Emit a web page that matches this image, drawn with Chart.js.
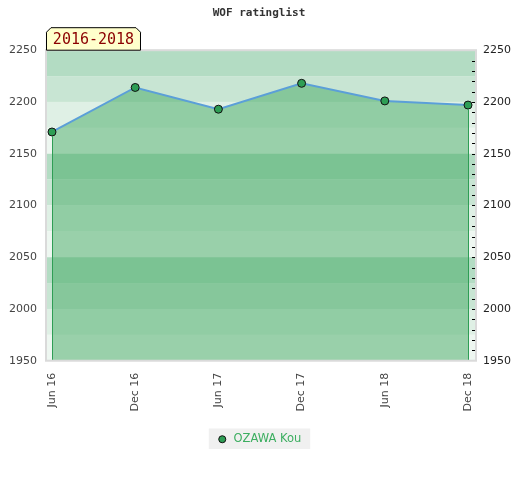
<!DOCTYPE html>
<html>
<head>
<meta charset="utf-8">
<script src="https://cdn.jsdelivr.net/npm/chart.js@4/dist/chart.umd.min.js"></script>
<style>
  html, body { margin: 0; padding: 0; background: #fff; }
  #wrap { width: 520px; height: 480px; }
</style>
</head>
<body>
<div id="wrap"><canvas id="rating-chart" width="520" height="480"></canvas></div>
<script>
// data
const periods = ["Jun 16", "Dec 16", "Jun 17", "Dec 17", "Jun 18", "Dec 18"];
const ratings = [2171, 2214, 2193, 2218, 2201, 2197];
const yTicks = [1950, 2000, 2050, 2100, 2150, 2200, 2250];
const playerName = "OZAWA Kou";
const rangeLabel = "2016-2018";

// styles
const bandColors = ["#b3dcc3", "#c8e5d3", "#dff0e5", "#eef7f1"];
const lineBlue = "#5b9fd8";
const pointGreen = "#2e9e55";
const edgeGreen = "#2f9e55";

const yMin = yTicks[0];
const yMax = yTicks[yTicks.length - 1];

// striped background behind the fill
const bandsPlugin = {
  id: "bands",
  beforeDatasetsDraw(chart) {
    const { ctx, chartArea } = chart;
    const y = chart.scales.y;
    ctx.save();
    for (let top = yMax, i = 0; top > yMin; top -= 25, i++) {
      const y1 = y.getPixelForValue(top);
      const y2 = y.getPixelForValue(top - 25);
      ctx.fillStyle = bandColors[i % 4];
      ctx.fillRect(chartArea.left, y1, chartArea.right - chartArea.left, y2 - y1);
    }
    ctx.restore();
  },
};

// frame, end lines, minor ticks, range tag
const decorPlugin = {
  id: "decor",
  afterDatasetsDraw(chart) {
    const { ctx, chartArea } = chart;
    const meta = chart.getDatasetMeta(0);
    const first = meta.data[0];
    const last = meta.data[meta.data.length - 1];
    ctx.save();
    ctx.strokeStyle = edgeGreen;
    ctx.lineWidth = 1;
    [first, last].forEach((p) => {
      ctx.beginPath();
      ctx.moveTo(Math.round(p.x) + 0.5, p.y + 4);
      ctx.lineTo(Math.round(p.x) + 0.5, chartArea.bottom);
      ctx.stroke();
    });

    ctx.strokeStyle = "#dadada";
    ctx.lineWidth = 2;
    ctx.strokeRect(chartArea.left, chartArea.top, chartArea.right - chartArea.left, chartArea.bottom - chartArea.top);

    // minor ticks of the right axis, drawn inside the plot
    const yr = chart.scales.yRight;
    ctx.strokeStyle = "#000";
    ctx.lineWidth = 1;
    yr.ticks.forEach((t) => {
      if (t.value === yMax || t.value === yMin) return;
      const py = Math.round(yr.getPixelForValue(t.value)) + 0.5;
      ctx.beginPath();
      ctx.moveTo(chartArea.right - 4, py);
      ctx.lineTo(chartArea.right - 1, py);
      ctx.stroke();
    });

    // tag above the plot
    const bx = chartArea.left, by = chartArea.top - 23, bw = 95, bh = 23, c = 5;
    ctx.beginPath();
    ctx.moveTo(bx + 0.5, by + bh);
    ctx.lineTo(bx + 0.5, by + c);
    ctx.lineTo(bx + c, by + 0.5);
    ctx.lineTo(bx + bw - c, by + 0.5);
    ctx.lineTo(bx + bw - 0.5, by + c);
    ctx.lineTo(bx + bw - 0.5, by + bh);
    ctx.closePath();
    ctx.fillStyle = "#ffffcc";
    ctx.fill();
    ctx.strokeStyle = "#000";
    ctx.stroke();
    ctx.fillStyle = "#8b0000";
    ctx.font = "15px 'DejaVu Sans Mono'";
    ctx.textAlign = "center";
    ctx.textBaseline = "middle";
    ctx.fillText(rangeLabel, bx + bw / 2, by + bh / 2 + 1);
    ctx.restore();
  },
};

// grey box behind the legend entry
const legendBoxPlugin = {
  id: "legendBox",
  beforeDraw(chart) {
    const boxes = chart.legend && chart.legend.legendHitBoxes;
    if (!boxes || !boxes.length) return;
    const b = boxes[0];
    const { ctx } = chart;
    ctx.save();
    ctx.fillStyle = "#f0f0f0";
    ctx.fillRect(b.left - 8, b.top - 5, b.width + 17, b.height + 9);
    ctx.restore();
  },
};

const config = {
  type: "line",
  data: {
    datasets: [
      {
        label: playerName,
        data: ratings.map((v, i) => ({ x: i, y: v })),
        borderColor: lineBlue,
        borderWidth: 2,
        backgroundColor: "rgba(67,170,99,0.5)",
        fill: "start",
        tension: 0,
        pointRadius: 4,
        pointBorderWidth: 1,
        pointBackgroundColor: pointGreen,
        pointBorderColor: "#111",
        yAxisID: "y",
      },
    ],
  },
  options: {
    responsive: false,
    animation: false,
    layout: { padding: { left: 0, right: 2, bottom: 25 } },
    plugins: {
      title: {
        display: true,
        text: "WOF ratinglist",
        color: "#333",
        font: { family: "DejaVu Sans Mono", size: 11, weight: "bold" },
        padding: { top: 7, bottom: 30 },
      },
      legend: {
        position: "bottom",
        labels: {
          usePointStyle: true,
          pointStyle: "circle",
          boxWidth: 11,
          boxHeight: 5,
          color: "#3cae60",
          font: { family: "DejaVu Sans", size: 11.5 },
          padding: 10,
          generateLabels: () => [
            {
              text: playerName,
              fillStyle: pointGreen,
              strokeStyle: "#111",
              lineWidth: 1,
              pointStyle: "circle",
              fontColor: "#3cae60",
              datasetIndex: 0,
            },
          ],
        },
      },
      tooltip: { enabled: false },
    },
    scales: {
      x: {
        type: "linear",
        min: -0.072,
        max: 5.096,
        afterBuildTicks: (axis) => {
          axis.ticks = periods.map((p, i) => ({ value: i }));
        },
        grid: { display: false, drawTicks: false },
        border: { display: false },
        ticks: {
          autoSkip: false,
          maxRotation: 90,
          minRotation: 90,
          padding: 12,
          color: "#444",
          font: { family: "DejaVu Sans", size: 11 },
          callback: (v) => periods[v],
        },
      },
      y: {
        position: "left",
        min: yMin,
        max: yMax,
        grid: { display: false, drawTicks: false },
        border: { display: false },
        ticks: {
          stepSize: 50,
          padding: 9,
          color: "#444",
          font: { family: "DejaVu Sans", size: 11 },
          callback: (v) => String(v),
        },
      },
      yRight: {
        position: "right",
        min: yMin,
        max: yMax,
        grid: { display: false, drawTicks: false },
        border: { display: false },
        ticks: {
          stepSize: 10,
          autoSkip: false,
          padding: 7,
          color: "#222",
          font: { family: "DejaVu Sans", size: 11 },
          callback: (v) => (v % 50 === 0 ? String(v) : ""),
        },
      },
    },
  },
  plugins: [bandsPlugin, decorPlugin, legendBoxPlugin],
};

new Chart("rating-chart", config);
</script>
</body>
</html>
